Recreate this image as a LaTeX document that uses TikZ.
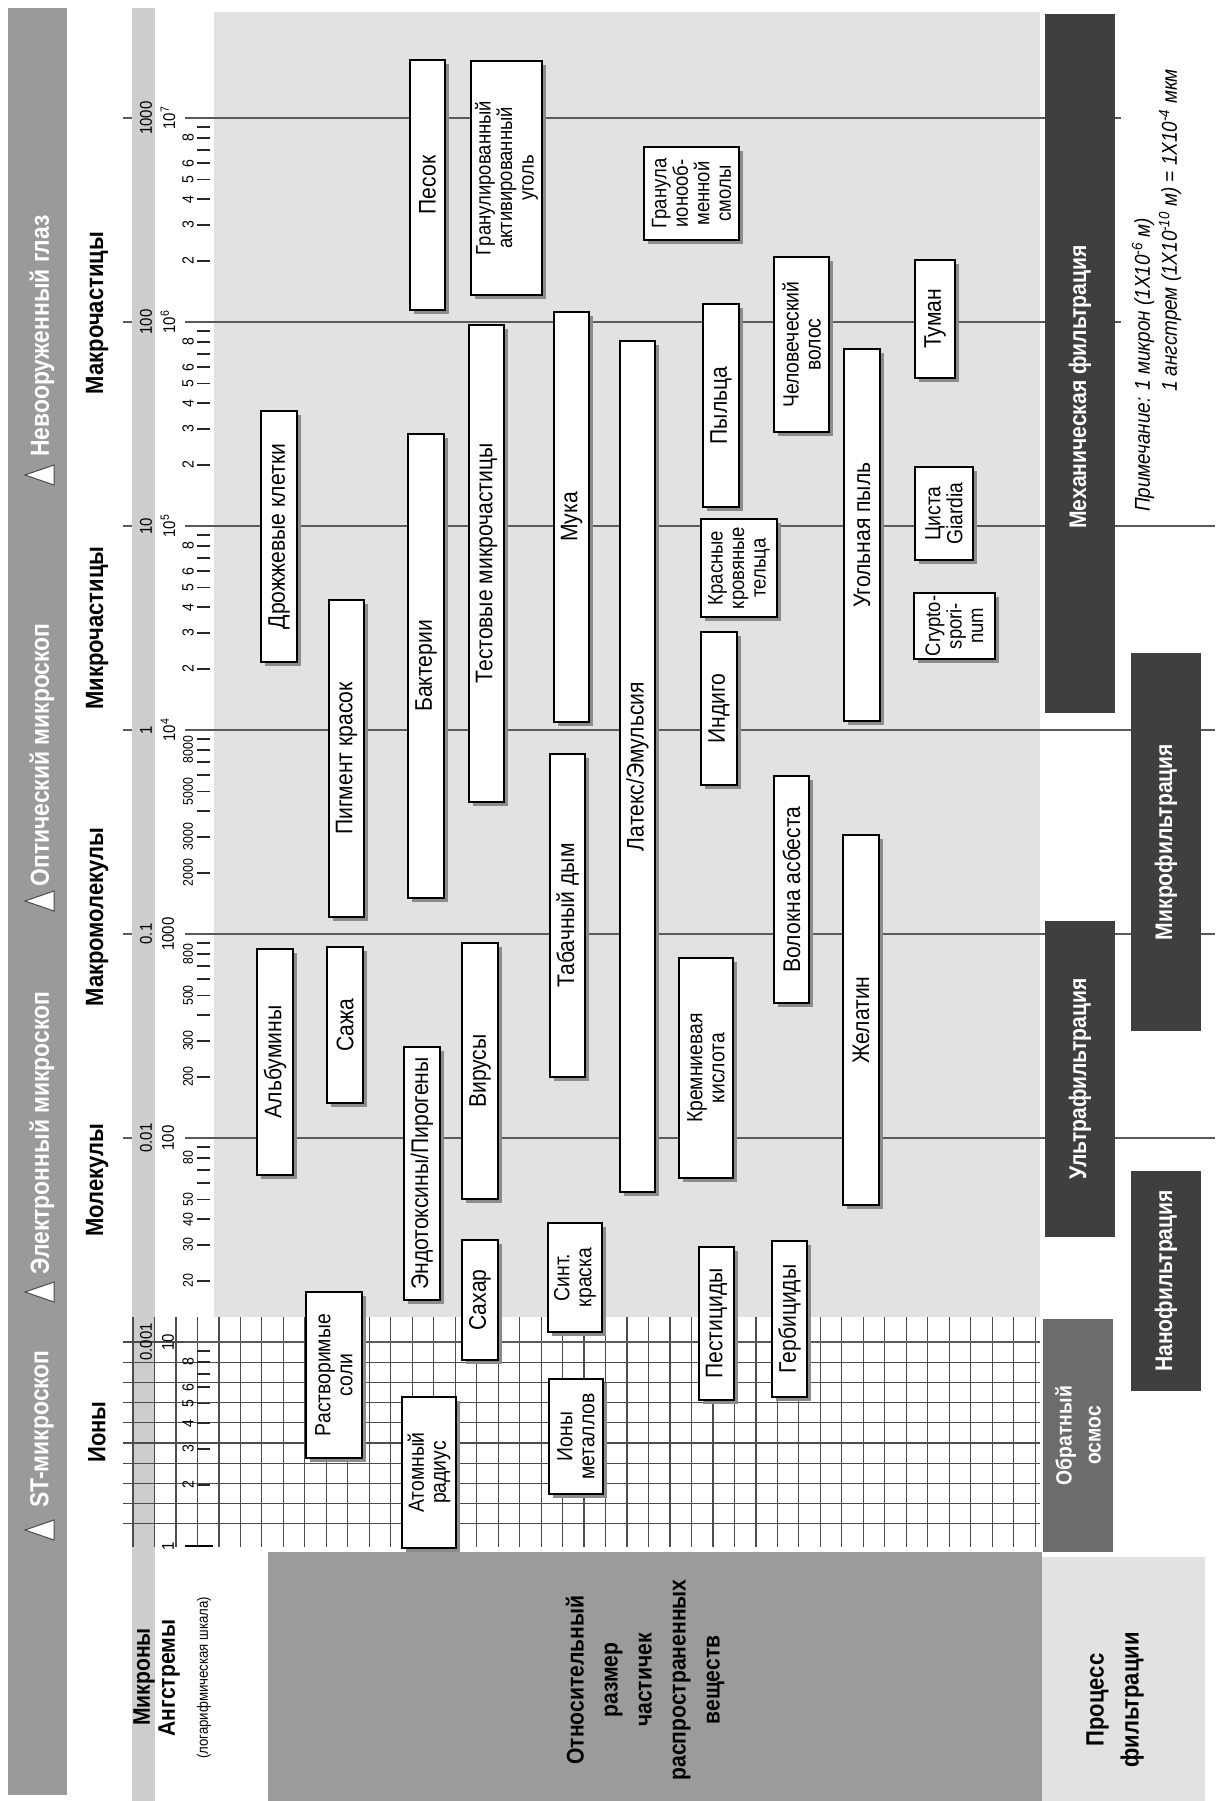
\documentclass[tikz,border=0pt]{standalone}
\usepackage{fontspec}
\setmainfont{Liberation Sans}[FakeStretch=0.88]
\usepackage{xcolor}
\usepackage{tikz}
\usetikzlibrary{shadows}

\definecolor{bandgray}{HTML}{9A9A9C}
\definecolor{scalegray}{HTML}{CDCDCD}
\definecolor{areagray}{HTML}{E1E2E1}
\definecolor{filtdark}{HTML}{413F3D}
\definecolor{osmgray}{HTML}{6D6C6C}
\definecolor{blockgray}{HTML}{9B9B9D}
\definecolor{linegray}{HTML}{5A5A5A}
\definecolor{shadowgray}{HTML}{8C8C8C}

\begin{document}
\begin{tikzpicture}[x=1pt, y=-1pt, every node/.style={align=center, inner sep=0pt}]
\tikzset{
  txt/.style={rotate=90},
  boxbase/.style={draw=black, line width=1.3pt, fill=white,
    drop shadow={shadow xshift=4pt, shadow yshift=-4pt, fill=shadowgray, opacity=1}},
  subst/.style={boxbase, label={[txt, font=\fontsize{24}{22}\selectfont]center:#1}},
  substtwo/.style={boxbase, label={[txt, font=\fontsize{22}{22}\selectfont]center:#1}},
  substmulti/.style={boxbase, label={[txt, font=\fontsize{21}{21.5}\selectfont]center:#1}},
  fbar/.style={txt, fill=filtdark, text=white, minimum height=70pt, font=\bfseries\fontsize{24}{28}\selectfont},
  ftext/.style={txt, text=white, font=\bfseries\fontsize{24}{28}\selectfont},
  sizegroup/.style={txt, font=\bfseries\fontsize{25}{27}\selectfont},
  microscope/.style={txt, text=white, font=\bfseries\fontsize{26}{28}\selectfont},
  tri/.style={fill=white, draw=black!70, line width=1pt},
  decline/.style={draw=linegray, line width=1.5pt},
  minortick/.style={draw=black!85, line width=1.8pt},
  gridline/.style={draw=black!70, line width=1.2pt},
  numlbl/.style={txt, font=\fontsize{17}{17}\selectfont},
  minorlbl/.style={txt, font=\fontsize{16}{16}\selectfont},
  minorlong/.style={txt, font=\fontsize{14}{14}\selectfont},
  note/.style={txt, font=\itshape\fontsize{21.5}{23}\selectfont, anchor=west},
  heading/.style={txt, font=\bfseries\fontsize{24}{34}\selectfont}
}
\useasboundingbox (0,0) rectangle (1217,1801);

% фон
\fill[bandgray] (8,8) rectangle (67,1795);
\fill[scalegray] (132,8) rectangle (155,1801);
\fill[areagray] (214,12) rectangle (1040,1317);
\fill[blockgray] (268,1552) rectangle (1042,1801);
\fill[areagray] (1042,1557) rectangle (1205,1801);

% сетка
\foreach \i in {0,...,42}
  \draw[gridline] ({133+21.48*\i},1317) -- ({133+21.48*\i},1547);
\foreach \j in {0,...,9}
  \draw[gridline] (123,{1342+20.2*\j}) -- (1040,{1342+20.2*\j});

% шкала
\foreach \k in {1,...,7}
  \draw[decline] (185,{1546-204*\k}) -- (1040,{1546-204*\k});
\foreach \k in {2,...,5}
  \draw[decline] (1040,{1546-204*\k}) -- (1215,{1546-204*\k});
\foreach \k in {6,7}
  \draw[decline] (1040,{1546-204*\k}) -- (1121,{1546-204*\k});
\foreach \k in {2,...,7}
  \draw[decline] (123,{1546-204*\k}) -- (132,{1546-204*\k});
\draw[black, line width=2.5pt] (185,1546) -- (213,1546);
\foreach \k in {0,...,6}
  \foreach \m in {2,...,9}
    \draw[minortick] (197,{1546-204*(\k+log10(\m))}) -- (210,{1546-204*(\k+log10(\m))});

\foreach \k/\t in {7/1000, 6/100, 5/10, 4/1, 3/0.1, 2/0.01, 1/0.001}
  \node[numlbl] (mu\k) at (146,{1546-204*\k}) {\t};
\foreach \k/\t in {7/{10\textsuperscript{7}}, 6/{10\textsuperscript{6}}, 5/{10\textsuperscript{5}},
                   4/{10\textsuperscript{4}}, 3/1000, 2/100, 1/10, 0/1}
  \node[numlbl] (ang\k) at (168,{1546-204*\k}) {\t};
\foreach \k in {0,4,5,6}
  \foreach \m in {2,3,4,5,6,8}
    \node[minorlbl] (ml\k\m) at (188,{1546-204*(\k+log10(\m))}) {\m};
\foreach \m in {2,3,4,5,8}
  \node[minorlong] (mla\m) at (188,{1546-204*(1+log10(\m))}) {\m0};
\foreach \m in {2,3,5,8}
  \node[minorlong] (mlb\m) at (188,{1546-204*(2+log10(\m))}) {\m00};
\foreach \m in {2,3,5,8}
  \node[minorlong] (mlc\m) at (188,{1546-204*(3+log10(\m))}) {\m000};

% микроскопы
\node[microscope] (eye) at (42,336) {Невооруженный глаз};
\node[microscope] (optic) at (42,755) {Оптический микроскоп};
\node[microscope] (electron) at (42,1133) {Электронный микроскоп};
\node[microscope] (stm) at (42,1429) {ST-микроскоп};
\foreach \y in {475,901,1292,1530}
  \draw[tri] (54,{\y-10}) -- (25,\y) -- (54,{\y+10}) -- cycle;

% группы частиц
\node[sizegroup] (macropart) at (97,313) {Макрочастицы};
\node[sizegroup] (micropart) at (97,628) {Микрочастицы};
\node[sizegroup] (macromol) at (97,917) {Макромолекулы};
\node[sizegroup] (mol) at (97,1180) {Молекулы};
\node[sizegroup] (ions) at (97,1432) {Ионы};

% подписи внизу
\node[txt, font=\bfseries\fontsize{24}{26}\selectfont] (microns) at (144,1677) {Микроны};
\node[txt, font=\bfseries\fontsize{24}{26}\selectfont] (angstr) at (169,1678) {Ангстремы};
\node[txt, font=\fontsize{15}{16}\selectfont] (logscale) at (204,1678) {(логарифмическая шкала)};
\node[heading] (relsize) at (645,1680) {Относительный\\размер\\частичек\\распространенных\\веществ};
\node[heading, font=\bfseries\fontsize{25}{35}\selectfont] (process) at (1115,1700) {Процесс\\фильтрации};

% фильтрация
\node[fbar, minimum width=699pt] (mech) at (1080,363.5) {};
\node[ftext] (mechlbl) at (1080,387) {Механическая фильтрация};
\node[fbar, minimum width=378pt] (microf) at (1166,842) {Микрофильтрация};
\node[fbar, minimum width=316pt] (ultra) at (1080,1079) {Ультрафильтрация};
\node[fbar, minimum width=220pt] (nano) at (1166,1281) {Нанофильтрация};
\node[fbar, fill=osmgray, minimum width=233pt, font=\bfseries\fontsize{22}{29}\selectfont] (osmos) at (1078,1435.5) {Обратный\\осмос};

% примечание
\node[note] (note1) at (1143,512) {Примечание: 1 микрон (1X10\textsuperscript{-6} м)};
\node[note] (note2) at (1170,392) {1 ангстрем (1X10\textsuperscript{-10} м) = 1X10\textsuperscript{-4} мкм};

% вещества
\node[subst={Песок}, minimum width=35pt, minimum height=250pt] (sand) at (427.5,185) {};
\node[substmulti={Гранулированный\\активированный\\уголь}, minimum width=71pt, minimum height=234pt] (carbon) at (506.5,178) {};
\node[substmulti={Гранула\\ионооб-\\менной\\смолы}, minimum width=95pt, minimum height=93pt] (resin) at (691.5,193.5) {};
\node[substtwo={Человеческий\\волос}, minimum width=55pt, minimum height=175pt] (hair) at (801.5,344.5) {};
\node[subst={Туман}, minimum width=40pt, minimum height=118pt] (fog) at (935,319) {};
\node[subst={Пыльца}, minimum width=36pt, minimum height=203pt] (pollen) at (721,405.5) {};
\node[subst={Мука}, minimum width=35pt, minimum height=410pt] (flour) at (571.5,517) {};
\node[subst={Тестовые микрочастицы}, minimum width=35pt, minimum height=477pt] (testdust) at (486.5,563.5) {};
\node[subst={Латекс/Эмульсия}, minimum width=35pt, minimum height=851pt] (latex) at (637.5,766.5) {};
\node[subst={Угольная пыль}, minimum width=36pt, minimum height=372pt] (coaldust) at (862,535) {};
\node[subst={Дрожжевые клетки}, minimum width=36pt, minimum height=251pt] (yeast) at (279,536.5) {};
\node[subst={Бактерии}, minimum width=36pt, minimum height=464pt] (bacteria) at (426,666) {};
\node[substtwo={Циста\\Giardia}, minimum width=58pt, minimum height=93pt] (giardia) at (944,513.5) {};
\node[substmulti={Красные\\кровяные\\тельца}, minimum width=76pt, minimum height=98pt] (blood) at (739,568) {};
\node[substmulti={Crypto-\\spori-\\num}, minimum width=81pt, minimum height=66pt] (crypto) at (954.5,626) {};
\node[subst={Пигмент красок}, minimum width=35pt, minimum height=317pt] (pigment) at (346.5,758.5) {};
\node[subst={Индиго}, minimum width=36pt, minimum height=153pt] (indigo) at (719,708.5) {};
\node[subst={Табачный дым}, minimum width=35pt, minimum height=323pt] (smoke) at (567.5,915.5) {};
\node[subst={Волокна асбеста}, minimum width=35pt, minimum height=227pt] (asbestos) at (791.5,889.5) {};
\node[subst={Желатин}, minimum width=36pt, minimum height=370pt] (gelatin) at (861,1020) {};
\node[subst={Вирусы}, minimum width=36pt, minimum height=256pt] (virus) at (480,1071) {};
\node[subst={Сажа}, minimum width=36pt, minimum height=156pt] (soot) at (345,1025) {};
\node[subst={Альбумины}, minimum width=36pt, minimum height=226pt] (albumin) at (275,1062) {};
\node[substtwo={Кремниевая\\кислота}, minimum width=54pt, minimum height=220pt] (silica) at (706,1068) {};
\node[subst={Эндотоксины/Пирогены}, minimum width=36pt, minimum height=253pt] (endotox) at (422,1173.5) {};
\node[substtwo={Синт.\\краска}, minimum width=54pt, minimum height=109pt] (dye) at (575,1277.5) {};
\node[subst={Сахар}, minimum width=36pt, minimum height=120pt] (sugar) at (480,1300) {};
\node[subst={Гербициды}, minimum width=35pt, minimum height=156pt] (herbicide) at (789.5,1319) {};
\node[subst={Пестициды}, minimum width=35pt, minimum height=153pt] (pesticide) at (716.5,1323.5) {};
\node[substtwo={Растворимые\\соли}, minimum width=56pt, minimum height=166pt] (salts) at (334,1375) {};
\node[substtwo={Ионы\\металлов}, minimum width=54pt, minimum height=115pt] (metalion) at (576,1436.5) {};
\node[substtwo={Атомный\\радиус}, minimum width=54pt, minimum height=151pt] (atom) at (429,1472.5) {};
\end{tikzpicture}
\end{document}
